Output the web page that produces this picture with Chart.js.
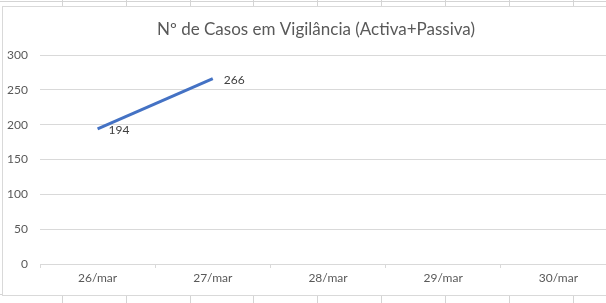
<!DOCTYPE html>
<html>
<head>
<meta charset="utf-8">
<script src="https://cdn.jsdelivr.net/npm/chart.js@4"></script>
<style>
  html, body { margin: 0; padding: 0; background: #fff; width: 606px; height: 303px; overflow: hidden; position: relative; }
  .cells { position: absolute; left: 0; width: 606px; height: 10px; }
  .cells span { position: absolute; top: 0; width: 1px; height: 10px; background: #d4d4d4; }
  #topcells { top: 0; border-bottom: 1px solid #d4d4d4; height: 1px; }
  #topcells span { height: 7px; }
  #botcells { top: 294px; border-top: 1px solid #d4d4d4; }
  #box { position: absolute; left: 2px; top: 6px; width: 620px; height: 288px; border: 1px solid #d9d9d9; background: #fff; }
  #wrap { position: absolute; left: 0; top: 0; width: 616px; height: 294px; }
</style>
</head>
<body>
<div class="cells" id="topcells"></div>
<div class="cells" id="botcells"></div>
<div id="box"></div>
<div id="wrap"><canvas id="grafico"></canvas></div>
<script>
const categorias = ['26/mar', '27/mar', '28/mar', '29/mar', '30/mar'];
const casos = [194, 266, null, null, null];
const ticksY = [0, 50, 100, 150, 200, 250, 300];
const titulo = 'Nº de Casos em Vigilância (Activa+Passiva)';

// linhas das células do Excel por trás do gráfico
const colunasExcel = [62, 126, 190, 253, 317, 381, 445, 509, 573];
['topcells', 'botcells'].forEach(id => {
    const el = document.getElementById(id);
    colunasExcel.forEach(x => {
        const s = document.createElement('span');
        s.style.left = x + 'px';
        el.appendChild(s);
    });
});

// título desenhado à mão para o centrar como no Excel
const tituloPlugin = {
    id: 'tituloExcel',
    afterDraw(chart) {
        const ctx = chart.ctx;
        ctx.save();
        ctx.font = '17px Lato';
        ctx.fillStyle = '#595959';
        ctx.textAlign = 'center';
        ctx.textBaseline = 'middle';
        ctx.fillText(titulo, 316, 30);
        ctx.restore();
    }
};

const rotulos = {
    id: 'rotulos',
    afterDatasetsDraw(chart) {
        const ctx = chart.ctx;
        const meta = chart.getDatasetMeta(0);
        ctx.save();
        ctx.font = '12px Lato';
        ctx.fillStyle = '#404040';
        ctx.textAlign = 'left';
        ctx.textBaseline = 'middle';
        meta.data.forEach((p, i) => {
            const v = casos[i];
            if (v === null) return;
            ctx.fillText(String(v), p.x + 11, p.y + 1);
        });
        ctx.restore();
    }
};

new Chart(document.getElementById('grafico'), {
    type: 'line',
    data: {
        labels: categorias,
        datasets: [{
            label: 'Casos',
            data: casos,
            borderColor: '#4472C4',
            borderWidth: 3,
            pointRadius: 0,
            tension: 0,
            spanGaps: false
        }]
    },
    options: {
        responsive: true,
        maintainAspectRatio: false,
        animation: false,
        layout: { padding: { left: 0, right: 0, top: 55, bottom: 0 } },
        plugins: {
            legend: { display: false },
            tooltip: { enabled: false },
            title: { display: false }
        },
        scales: {
            x: {
                offset: true,
                afterFit: s => { s.height = 30; },
                border: { color: '#d9d9d9' },
                grid: {
                    offset: true,
                    drawOnChartArea: false,
                    drawTicks: true,
                    tickLength: 4,
                    color: '#d9d9d9'
                },
                ticks: {
                    color: '#595959',
                    font: { family: 'Lato', size: 12 },
                    padding: 3,
                    maxRotation: 0
                }
            },
            y: {
                min: 0,
                max: 300,
                afterFit: s => { s.width = 40; },
                afterBuildTicks: s => { s.ticks = ticksY.map(v => ({ value: v })); },
                border: { display: false },
                grid: { color: '#d9d9d9', drawTicks: false },
                ticks: {
                    color: '#595959',
                    font: { family: 'Lato', size: 12 },
                    padding: 12
                }
            }
        }
    },
    plugins: [tituloPlugin, rotulos]
});
</script>
</body>
</html>
